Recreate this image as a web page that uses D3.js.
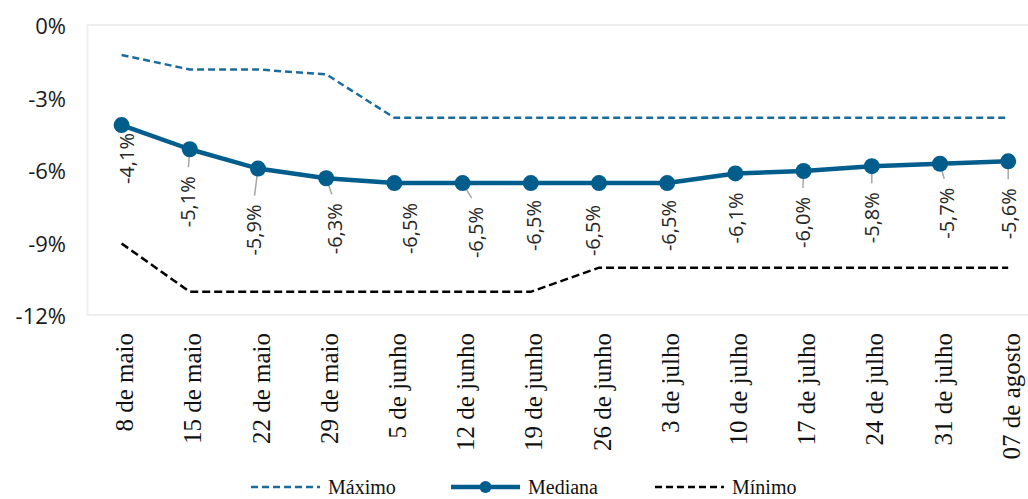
<!DOCTYPE html>
<html lang="pt">
<head>
<meta charset="UTF-8">
<title>Mediana, máximo e mínimo</title>
<script src="https://d3js.org/d3.v7.min.js"></script>
<style>
    body, html { margin: 0; padding: 0; background: #fff; overflow: hidden; }
    svg { display: block; }
</style>
</head>
<body>
<div id="chart"></div>
<script>

    // dados (%)
    const categorias = ["8 de maio", "15 de maio", "22 de maio", "29 de maio", "5 de junho", "12 de junho",
        "19 de junho", "26 de junho", "3 de julho", "10 de julho", "17 de julho", "24 de julho",
        "31 de julho", "07 de agosto"]
    const mediana = [-4.1, -5.1, -5.9, -6.3, -6.5, -6.5, -6.5, -6.5, -6.5, -6.1, -6.0, -5.8, -5.7, -5.6]
    const maximo = [-1.2, -1.8, -1.8, -2.0, -3.8, -3.8, -3.8, -3.8, -3.8, -3.8, -3.8, -3.8, -3.8, -3.8]
    const minimo = [-9.0, -11.0, -11.0, -11.0, -11.0, -11.0, -11.0, -10.0, -10.0, -10.0, -10.0, -10.0, -10.0, -10.0]
    const yTicks = [0, -3, -6, -9, -12]

    // deslocamento dos rótulos (px), como foram arrumados à mão no original
    const labelNudge = [[5, 8], [-2, 27], [-5, 36], [8, 25], [15, 20], [13, 24], [3, 17],
        [-7, 22], [1, 17], [0, 19], [-1, 26], [0, 26], [6, 24], [0, 27]]

    const width = 1028, height = 499
    const plot = { left: 87.5, right: 1042.3, top: 26, bottom: 316 }
    const blue = "#005d8c"

    const svg = d3.select("#chart").append("svg")
        .attr("width", width)
        .attr("height", height)

    const x = d3.scaleBand()
        .domain(categorias)
        .range([plot.left, plot.right])
    const cx = d => x(d) + x.bandwidth() / 2

    const y = d3.scaleLinear()
        .domain([-12, 0])
        .range([plot.bottom, plot.top])

    // moldura da área do gráfico
    svg.append("rect")
        .attr("x", plot.left)
        .attr("y", plot.top - 1)
        .attr("width", plot.right - plot.left)
        .attr("height", plot.bottom - plot.top)
        .attr("fill", "none")
        .attr("stroke", "#efefef")
        .attr("stroke-width", 2)

    // eixo y (só os rótulos)
    const yAxis = svg.append("g")
        .attr("transform", "translate(66,0)")
        .call(d3.axisLeft(y).tickValues(yTicks).tickSize(0).tickPadding(0).tickFormat(d => d + "%"))
    yAxis.select(".domain").remove()
    yAxis.selectAll("text")
        .attr("font-family", "'Open Sans', sans-serif")
        .attr("font-size", 22)
        .attr("fill", "#1a1a1a")
        .attr("dy", "0.35em")

    // eixo x, rótulos rodados
    const xAxis = svg.append("g")
        .attr("transform", `translate(0,${plot.bottom})`)
        .call(d3.axisBottom(x).tickSize(0).tickPadding(0))
    xAxis.select(".domain").remove()
    xAxis.selectAll("text")
        .attr("font-family", "'Liberation Serif', serif")
        .attr("font-size", 25)
        .attr("fill", "#111")
        .attr("text-anchor", "end")
        .attr("dominant-baseline", "central")
        .attr("y", 0)
        .attr("dy", null)
        .attr("transform", "translate(3,17) rotate(-90)")

    const line = d3.line()
        .x((d, i) => cx(categorias[i]))
        .y(d => y(d))

    svg.append("path")
        .datum(maximo)
        .attr("d", line)
        .attr("fill", "none")
        .attr("stroke", "#1b6c9b")
        .attr("stroke-width", 2.5)
        .attr("stroke-dasharray", "7,4")

    svg.append("path")
        .datum(minimo)
        .attr("d", line)
        .attr("fill", "none")
        .attr("stroke", "#000")
        .attr("stroke-width", 2.5)
        .attr("stroke-dasharray", "8,4")

    svg.append("path")
        .datum(mediana)
        .attr("d", line)
        .attr("fill", "none")
        .attr("stroke", blue)
        .attr("stroke-width", 4.5)
        .attr("stroke-linejoin", "round")

    // linhas de chamada para os rótulos afastados
    const pontos = mediana.map((v, i) => ({
        v, cat: categorias[i], px: cx(categorias[i]), py: y(v),
        lx: cx(categorias[i]) + labelNudge[i][0], ly: y(v) + labelNudge[i][1]
    }))

    svg.append("g")
        .selectAll("line")
        .data(pontos.filter(p => p.ly - p.py > 22))
        .join("line")
        .attr("x1", p => p.px)
        .attr("y1", p => p.py)
        .attr("x2", p => p.px + (p.lx - p.px) * 0.7)
        .attr("y2", p => p.ly - 9)
        .attr("stroke", "#a6a6a6")
        .attr("stroke-width", 1.5)

    svg.append("g")
        .selectAll("circle")
        .data(pontos)
        .join("circle")
        .attr("cx", p => p.px)
        .attr("cy", p => p.py)
        .attr("r", 8)
        .attr("fill", blue)

    svg.append("g")
        .selectAll("text")
        .data(pontos)
        .join("text")
        .attr("transform", p => `translate(${p.lx},${p.ly}) rotate(-90)`)
        .attr("text-anchor", "end")
        .attr("dominant-baseline", "central")
        .attr("font-family", "'Open Sans', sans-serif")
        .attr("font-size", 20)
        .attr("fill", "#262626")
        .text(p => d3.format(".1f")(p.v).replace(".", ",").replace("−", "-") + "%")

    // legenda
    const legenda = [
        { nome: "Máximo", cor: "#1b6c9b", dash: "7,4", w: 2.5, marca: false, x0: 251 },
        { nome: "Mediana", cor: blue, dash: null, w: 4.5, marca: true, x0: 451 },
        { nome: "Mínimo", cor: "#000", dash: "7,4", w: 2.5, marca: false, x0: 655 }
    ]
    const lg = svg.append("g").selectAll("g")
        .data(legenda)
        .join("g")
        .attr("transform", d => `translate(${d.x0},487)`)
    lg.append("line")
        .attr("x1", 0).attr("x2", 69)
        .attr("stroke", d => d.cor)
        .attr("stroke-width", d => d.w)
        .attr("stroke-dasharray", d => d.dash)
    lg.filter(d => d.marca).append("circle")
        .attr("cx", 34.5).attr("r", 6)
        .attr("fill", d => d.cor)
    lg.append("text")
        .attr("x", 77)
        .attr("y", 7)
        .attr("font-family", "'Liberation Serif', serif")
        .attr("font-size", 20)
        .attr("fill", "#111")
        .text(d => d.nome)

</script>
</body>
</html>
